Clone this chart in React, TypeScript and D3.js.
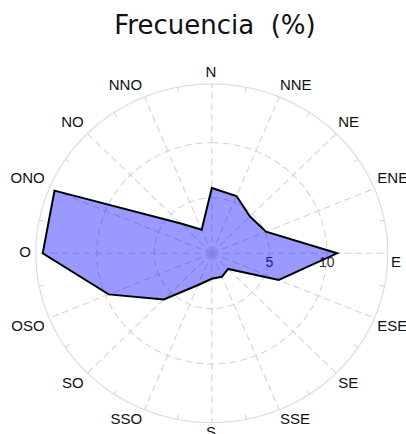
import React from "react";
import * as d3 from "d3";

const directions = ["N", "NNE", "NE", "ENE", "E", "ESE", "SE", "SSE", "S", "SSO", "SO", "OSO", "O", "ONO", "NO", "NNO"];
const frequency = [5.9, 5.6, 4.7, 5.1, 10.9, 6.3, 2.0, 2.3, 2.3, 3.1, 5.9, 9.7, 14.7, 14.8, 3.8, 2.3];
const gridValues = [5, 10];
const radialMax = 15.3;
const titleText = "Frecuencia\u00A0\u00A0(%)";

export default function App() {
  const W = 406, H = 434;
  const cx = 211.8, cy = 253.3;
  const rx = d3.scaleLinear().domain([0, radialMax]).range([0, 176]);
  const ry = d3.scaleLinear().domain([0, radialMax]).range([0, 169.3]);
  const n = directions.length;
  const ang = d3.scaleLinear().domain([0, n]).range([0, 2 * Math.PI]);

  const pt = (v: number, a: number): [number, number] => [cx + rx(v) * Math.sin(a), cy - ry(v) * Math.cos(a)];

  const ellipsePath = (v: number) => {
    const steps = 180;
    const pts = d3.range(steps + 1).map((i) => pt(v, (i / steps) * 2 * Math.PI));
    return d3.line()(pts) + "Z";
  };

  const poly = d3.line().curve(d3.curveLinearClosed)(frequency.map((v, i) => pt(v, ang(i))));

  const gridColor = "#d4d4d4";

  // label placement
  const lcx = 211, lcy = 251.8, LR = 180;

  return (
    <svg width={W} height={H} style={{ position: "absolute", left: 0, top: 0, background: "#fff" }}>
      <text x={215} y={34} textAnchor="middle" fontFamily="DejaVu Sans" fontSize={26} fill="#111">
        {titleText}
      </text>
      {/* outer circle */}
      <path d={ellipsePath(radialMax)} fill="none" stroke="#dcdcdc" strokeWidth={1.2} />
      {/* minor ticks on outer circle */}
      {directions.map((_, i) => {
        const a = ang(i + 0.5);
        const [x1, y1] = pt(radialMax, a);
        const x2 = x1 - 5 * Math.sin(a), y2 = y1 + 5 * Math.cos(a);
        return <line key={"t" + i} x1={x1} y1={y1} x2={x2} y2={y2} stroke="#d0d0d0" strokeWidth={1} />;
      })}
      {/* dashed grid circles */}
      {gridValues.map((g) => (
        <path key={"g" + g} d={ellipsePath(g)} fill="none" stroke={gridColor} strokeWidth={1.1} strokeDasharray="7,4" />
      ))}
      {/* spokes */}
      {directions.map((_, i) => {
        const [x2, y2] = pt(radialMax, ang(i));
        return <line key={"s" + i} x1={cx} y1={cy} x2={x2} y2={y2} stroke={gridColor} strokeWidth={1.1} strokeDasharray="7,4" />;
      })}
      {/* radial value labels */}
      {gridValues.map((g) => (
        <text key={"l" + g} x={cx + rx(g)} y={267} textAnchor="middle" fontFamily="Liberation Sans, Arial, sans-serif" fontSize={14} fill="#333">
          {g}
        </text>
      ))}
      {/* data polygon */}
      <path d={poly || ""} fill="rgba(0,0,255,0.4)" stroke="#000" strokeWidth={2} strokeLinejoin="miter" />
      {/* direction labels */}
      {directions.map((d, i) => {
        const a = ang(i);
        const s = Math.sin(a), c = Math.cos(a);
        const x = lcx + LR * s;
        let y = lcy - LR * c - Math.sign(Math.round(c * 1000)) * 6 * s * s;
        if (i === 4) y += 10;
        const anchor = Math.abs(s) < 0.01 ? "middle" : s > 0 ? "start" : "end";
        return (
          <text key={"d" + i} x={x} y={y} textAnchor={anchor} dominantBaseline="central" fontFamily="Liberation Sans, Arial, sans-serif" fontSize={15} fill="#111">
            {d}
          </text>
        );
      })}
    </svg>
  );
}
